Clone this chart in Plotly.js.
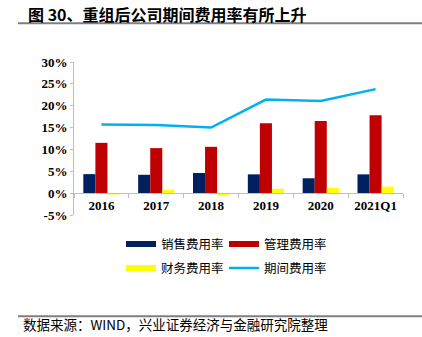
<!DOCTYPE html>
<html>
<head>
<meta charset="utf-8">
<script src="https://cdn.plot.ly/plotly-3.0.1.min.js"></script>
<style>html,body{margin:0;padding:0;background:#fff}#chart{width:422px;height:337px}</style>
</head>
<body>
<div id="chart"></div>
<script>
// Data
var categories = ['2016', '2017', '2018', '2019', '2020', '2021Q1'];
var salesRate = [4.35, 4.2, 4.6, 4.3, 3.4, 4.3];      // 销售费用率 (%)
var adminRate = [11.5, 10.3, 10.6, 16.0, 16.5, 17.8]; // 管理费用率 (%)
var financeRate = [-0.3, 0.8, -0.45, 1.0, 1.2, 1.5];  // 财务费用率 (%)
var periodRate = [15.7, 15.6, 15.0, 21.4, 21.1, 23.8]; // 期间费用率 (%)
var seriesNames = ['销售费用率', '管理费用率', '财务费用率', '期间费用率'];
var yTickVals = [-5, 0, 5, 10, 15, 20, 25, 30];
var yTickText = ['-5%', '0%', '5%', '10%', '15%', '20%', '25%', '30%'];

var colors = ['#002060', '#C00000', '#FFFF00', '#00B0F0'];
var yMin = -5, yMax = 30;

var W = 422, H = 337;
var m = {l: 74, r: 19, t: 62, b: 121.5};
var pw = W - m.l - m.r, ph = H - m.t - m.b;
function px(x) { return (x - m.l) / pw; }
function py(y) { return (H - m.b - y) / ph; }

var tickFont = {family: '"Liberation Serif", "Times New Roman", serif', size: 13, color: '#000', weight: 'bold'};
var cjk = '"Noto Sans CJK SC", sans-serif';

var traces = [
  {type: 'bar', x: categories, y: salesRate, name: seriesNames[0], marker: {color: colors[0]}, showlegend: false, legendgroup: 'a'},
  {type: 'bar', x: categories, y: adminRate, name: seriesNames[1], marker: {color: colors[1]}, showlegend: false, legendgroup: 'b'},
  {type: 'bar', x: categories, y: financeRate, name: seriesNames[2], marker: {color: colors[2]}, showlegend: false, legendgroup: 'c'},
  {type: 'scatter', mode: 'lines', x: categories, y: periodRate, name: seriesNames[3], line: {color: colors[3], width: 2.5}, showlegend: false, legendgroup: 'd'},
  // legend entries
  {type: 'scatter', mode: 'lines', x: [null], y: [null], name: seriesNames[0], line: {color: colors[0], width: 6}, legend: 'legend', legendgroup: 'a'},
  {type: 'scatter', mode: 'lines', x: [null], y: [null], name: seriesNames[1], line: {color: colors[1], width: 6}, legend: 'legend', legendgroup: 'b'},
  {type: 'scatter', mode: 'lines', x: [null], y: [null], name: seriesNames[2], line: {color: colors[2], width: 6}, legend: 'legend2', legendgroup: 'c'},
  {type: 'scatter', mode: 'lines', x: [null], y: [null], name: seriesNames[3], line: {color: colors[3], width: 2.5}, legend: 'legend2', legendgroup: 'd'}
];

var legendBase = {
  orientation: 'h', xref: 'paper', yref: 'paper', xanchor: 'left', yanchor: 'middle',
  entrywidth: 58, entrywidthmode: 'pixels', bgcolor: 'rgba(0,0,0,0)',
  font: {family: cjk, size: 12.5, color: '#000'}, itemwidth: 30, tracegroupgap: 0
};

var layout = {
  width: W, height: H,
  margin: m,
  paper_bgcolor: '#fff', plot_bgcolor: '#fff',
  barmode: 'group', bargap: 0.34, bargroupgap: 0,
  title: {
    text: '<b>图 30、重组后公司期间费用率有所上升</b>',
    xref: 'container', yref: 'container', x: 28 / W, xanchor: 'left', y: 1 - 15 / H, yanchor: 'middle',
    font: {family: cjk, size: 16, color: '#000'}
  },
  xaxis: {
    type: 'category', anchor: 'free', position: (0 - yMin) / (yMax - yMin),
    showline: true, linecolor: '#bfbfbf', linewidth: 1,
    ticks: 'outside', tickson: 'boundaries', ticklen: 4, tickcolor: '#bfbfbf',
    tickfont: tickFont, showgrid: false, zeroline: false, fixedrange: true
  },
  yaxis: {
    range: [yMin, yMax], tickvals: yTickVals, ticktext: yTickText,
    showline: true, linecolor: '#bfbfbf', linewidth: 1,
    ticks: 'outside', ticklen: 3, tickcolor: '#bfbfbf',
    tickfont: tickFont, showgrid: false, zeroline: false, fixedrange: true
  },
  legend: Object.assign({}, legendBase, {x: px(121), y: py(245)}),
  legend2: Object.assign({}, legendBase, {x: px(121), y: py(269)}),
  shapes: [
    {type: 'line', xref: 'paper', yref: 'paper', x0: px(18), x1: px(422), y0: py(23), y1: py(23), line: {color: '#7f7f7f', width: 2}},
    {type: 'line', xref: 'paper', yref: 'paper', x0: px(18), x1: px(422), y0: py(317), y1: py(317), line: {color: '#7f7f7f', width: 2}}
  ],
  annotations: [
    {text: '数据来源：WIND，兴业证券经济与金融研究院整理', xref: 'paper', yref: 'paper', x: px(21), y: py(325),
     xanchor: 'left', yanchor: 'middle', showarrow: false, font: {family: cjk, size: 13.5, color: '#000'}}
  ],
  showlegend: true
};

Plotly.newPlot('chart', traces, layout, {displayModeBar: false, staticPlot: true});
</script>
</body>
</html>
